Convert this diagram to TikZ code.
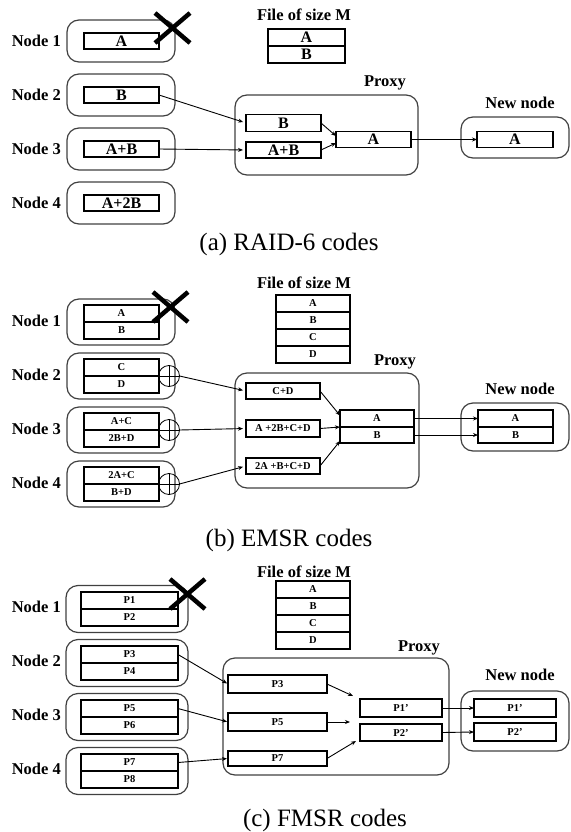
\documentclass[tikz,border=0pt]{standalone}
\usepackage{fontspec}
\setmainfont{Liberation Serif}
\usetikzlibrary{arrows.meta,calc}
\begin{document}
\begin{tikzpicture}[x=1pt,y=-1pt,
  cell/.style={draw, line width=1.4pt, inner sep=0pt, outer sep=0pt, font=\bfseries\fontsize{16}{16}\selectfont},
  scell/.style={cell, font=\bfseries\fontsize{10.5}{10.5}\selectfont},
  grp/.style={draw=black!75, line width=1.2pt, rounded corners=12pt, inner sep=0pt, outer sep=0pt},
  lbl/.style={font=\bfseries\fontsize{16.5}{16.5}\selectfont, inner sep=0pt},
  arr/.style={-{Stealth[length=5pt,width=4pt]}, line width=0.9pt},
  crossmark/.style={line width=4.5pt},
  captxt/.style={font=\fontsize{25}{25}\selectfont, inner sep=0pt},
  xorc/.style={circle, draw, line width=0.8pt, minimum size=21pt, inner sep=0pt, outer sep=0pt,
    path picture={\draw[line width=0.8pt] (path picture bounding box.north) -- (path picture bounding box.south)
      (path picture bounding box.west) -- (path picture bounding box.east);}}
]
\useasboundingbox (0,0) rectangle (570,832);

% ================= (a) =================
\foreach \i/\y/\t in {1/41/A, 2/95/B, 3/149/A+B, 4/203/A+2B}{
  \node[lbl, anchor=east] (la\i) at (61,\y) {Node \i};
  \node[grp, minimum width=108pt, minimum height=42pt] (ga\i) at (121,\y) {};
  \node[cell, minimum width=75pt, minimum height=16pt] (a\i) at (121.5,\y) {\t};
}
\draw[crossmark] (155,13) -- (190,43) (190,13) -- (155,43);

\node[lbl] (fa) at (304,15) {File of size M};
\node[cell, minimum width=77pt, minimum height=17pt] (faA) at (306.5,37.5) {A};
\node[cell, minimum width=77pt, minimum height=17pt, anchor=north] (faB) at (faA.south) {B};

\node[lbl] (pa) at (385,83) {Proxy};
\node[grp, minimum width=183pt, minimum height=80pt] (gpa) at (326.5,135) {};
\node[cell, minimum width=75pt, minimum height=17pt] (paB) at (283.5,123) {B};
\node[cell, minimum width=75pt, minimum height=16pt] (paAB) at (283.5,150) {A+B};
\node[cell, minimum width=75pt, minimum height=16pt] (ra) at (373.5,139.5) {A};

\node[lbl] (na) at (520,103) {New node};
\node[grp, minimum width=108pt, minimum height=41pt] (gna) at (515,137.5) {};
\node[cell, minimum width=76pt, minimum height=16pt] (naA) at (515,139.5) {A};

\draw[arr, shorten >=3pt] (a2.east) -- (paB.west);
\draw[arr, shorten >=3pt] (a3.east) -- (paAB.west);
\draw[arr] (paB.east) -- ($(ra.west)+(0,-3.5)$);
\draw[arr] (paAB.east) -- ($(ra.west)+(0,3.5)$);
\draw[arr] (ra.east) -- (naA.west);

\node[captxt] (capa) at (289,244) {(a) RAID-6 codes};

% ================= (b) =================
\foreach \i/\y/\t/\u in {1/322/A/B, 2/376/C/D, 3/430/A+C/2B+D, 4/484/2A+C/B+D}{
  \node[lbl, anchor=east] (lb\i) at (61,\y-1) {Node \i};
  \node[grp, minimum width=108pt, minimum height=46pt] (gb\i) at (121,\y) {};
  \node[scell, minimum width=75pt, minimum height=17pt, anchor=south] (b\i t) at (121.5,\y) {\t};
  \node[scell, minimum width=75pt, minimum height=17pt, anchor=north] (b\i b) at (121.5,\y) {\u};
}
\foreach \i/\y in {2/376, 3/430, 4/484}{
  \node[xorc] (x\i) at (169,\y) {};
}
\draw[crossmark] (153,292) -- (188,322) (188,292) -- (153,322);

\node[lbl] (fb) at (304,283) {File of size M};
\foreach \t/\y in {A/303.5, B/320.5, C/337.5, D/354.5}{
  \node[scell, minimum width=74pt, minimum height=17pt] (fb\t) at (313,\y) {\t};
}

\node[lbl] (pb) at (395,362) {Proxy};
\node[grp, minimum width=184pt, minimum height=115pt] (gpb) at (327,430.5) {};
\node[scell, minimum width=74pt, minimum height=16pt] (bCD) at (283,391) {C+D};
\node[scell, minimum width=74pt, minimum height=17pt] (bM) at (283,428.5) {A +2B+C+D};
\node[scell, minimum width=74pt, minimum height=16pt] (bL) at (283,466) {2A +B+C+D};
\node[scell, minimum width=74pt, minimum height=17pt, anchor=south] (rbA) at (377,427) {A};
\node[scell, minimum width=74pt, minimum height=16pt, anchor=north] (rbB) at (377,427) {B};

\node[lbl] (nb) at (520,389) {New node};
\node[grp, minimum width=108pt, minimum height=48pt] (gnb) at (515,427) {};
\node[scell, minimum width=75pt, minimum height=17pt, anchor=south] (nbA) at (515.5,427) {A};
\node[scell, minimum width=75pt, minimum height=16pt, anchor=north] (nbB) at (515.5,427) {B};

\draw[arr, shorten >=3pt] (x2.east) -- (bCD.west);
\draw[arr, shorten >=3pt] (x3.east) -- (bM.west);
\draw[arr, shorten >=3pt] (x4.east) -- (bL.west);
\draw[arr] (bCD.east) -- ($(rbA.west)+(0,-3)$);
\draw[arr] (bM.east) -- (rbA.south west);
\draw[arr] (bL.east) -- ($(rbB.west)+(0,6)$);
\draw[arr] (rbA.east) -- (nbA.west);
\draw[arr] (rbB.east) -- (nbB.west);

\node[captxt] (capb) at (289,540) {(b) EMSR codes};

% ================= (c) =================
\foreach \i/\y/\t/\u in {1/609/P1/P2, 2/663/P3/P4, 3/717/P5/P6, 4/771/P7/P8}{
  \node[lbl, anchor=east] (lc\i) at (61,\y-2) {Node \i};
  \node[grp, minimum width=122pt, minimum height=47pt] (gc\i) at (127,\y) {};
  \node[scell, minimum width=97pt, minimum height=17pt, anchor=south] (c\i t) at (129.5,\y) {\t};
  \node[scell, minimum width=97pt, minimum height=17pt, anchor=north] (c\i b) at (129.5,\y) {\u};
}
\draw[crossmark] (170,579) -- (205,609) (205,579) -- (170,609);

\node[lbl] (fc) at (304,572) {File of size M};
\foreach \t/\y in {A/589.5, B/606.5, C/623.5, D/640.5}{
  \node[scell, minimum width=74pt, minimum height=17pt] (fc\t) at (313,\y) {\t};
}

\node[lbl] (pc) at (419,648) {Proxy};
\node[grp, minimum width=226pt, minimum height=117pt] (gpc) at (336,716.5) {};
\node[scell, minimum width=99pt, minimum height=18pt] (pP3) at (277.5,684) {P3};
\node[scell, minimum width=99pt, minimum height=18pt] (pP5) at (277.5,722) {P5};
\node[scell, minimum width=99pt, minimum height=15pt] (pP7) at (277.5,758.5) {P7};
\node[scell, minimum width=82pt, minimum height=18pt] (pP1) at (401,708) {P1'};
\node[scell, minimum width=82pt, minimum height=17pt] (pP2) at (401,732.5) {P2'};

\node[lbl] (nc) at (520,675) {New node};
\node[grp, minimum width=108pt, minimum height=60pt] (gnc) at (515,721) {};
\node[scell, minimum width=82pt, minimum height=18pt] (nP1) at (515,708) {P1'};
\node[scell, minimum width=82pt, minimum height=18pt] (nP2) at (515,732) {P2'};

\coordinate (m3) at (353,696);
\coordinate (m5) at (350,722);
\coordinate (m7) at (356,741);
\draw[arr, shorten >=1pt] (c2t.east) -- (pP3.west);
\draw[arr, shorten >=1pt] (c3t.east) -- (pP5.west);
\draw[arr, shorten >=1pt] (c4t.east) -- (pP7.west);
\draw[arr] (pP3.east) -- (m3);
\draw[arr] (pP5.east) -- (m5);
\draw[arr] (pP7.east) -- (m7);
\draw[arr] (pP1.east) -- (nP1.west);
\draw[arr] (pP2.east) -- (nP2.west);

\node[captxt] (capc) at (325,820) {(c) FMSR codes};
\end{tikzpicture}
\end{document}
